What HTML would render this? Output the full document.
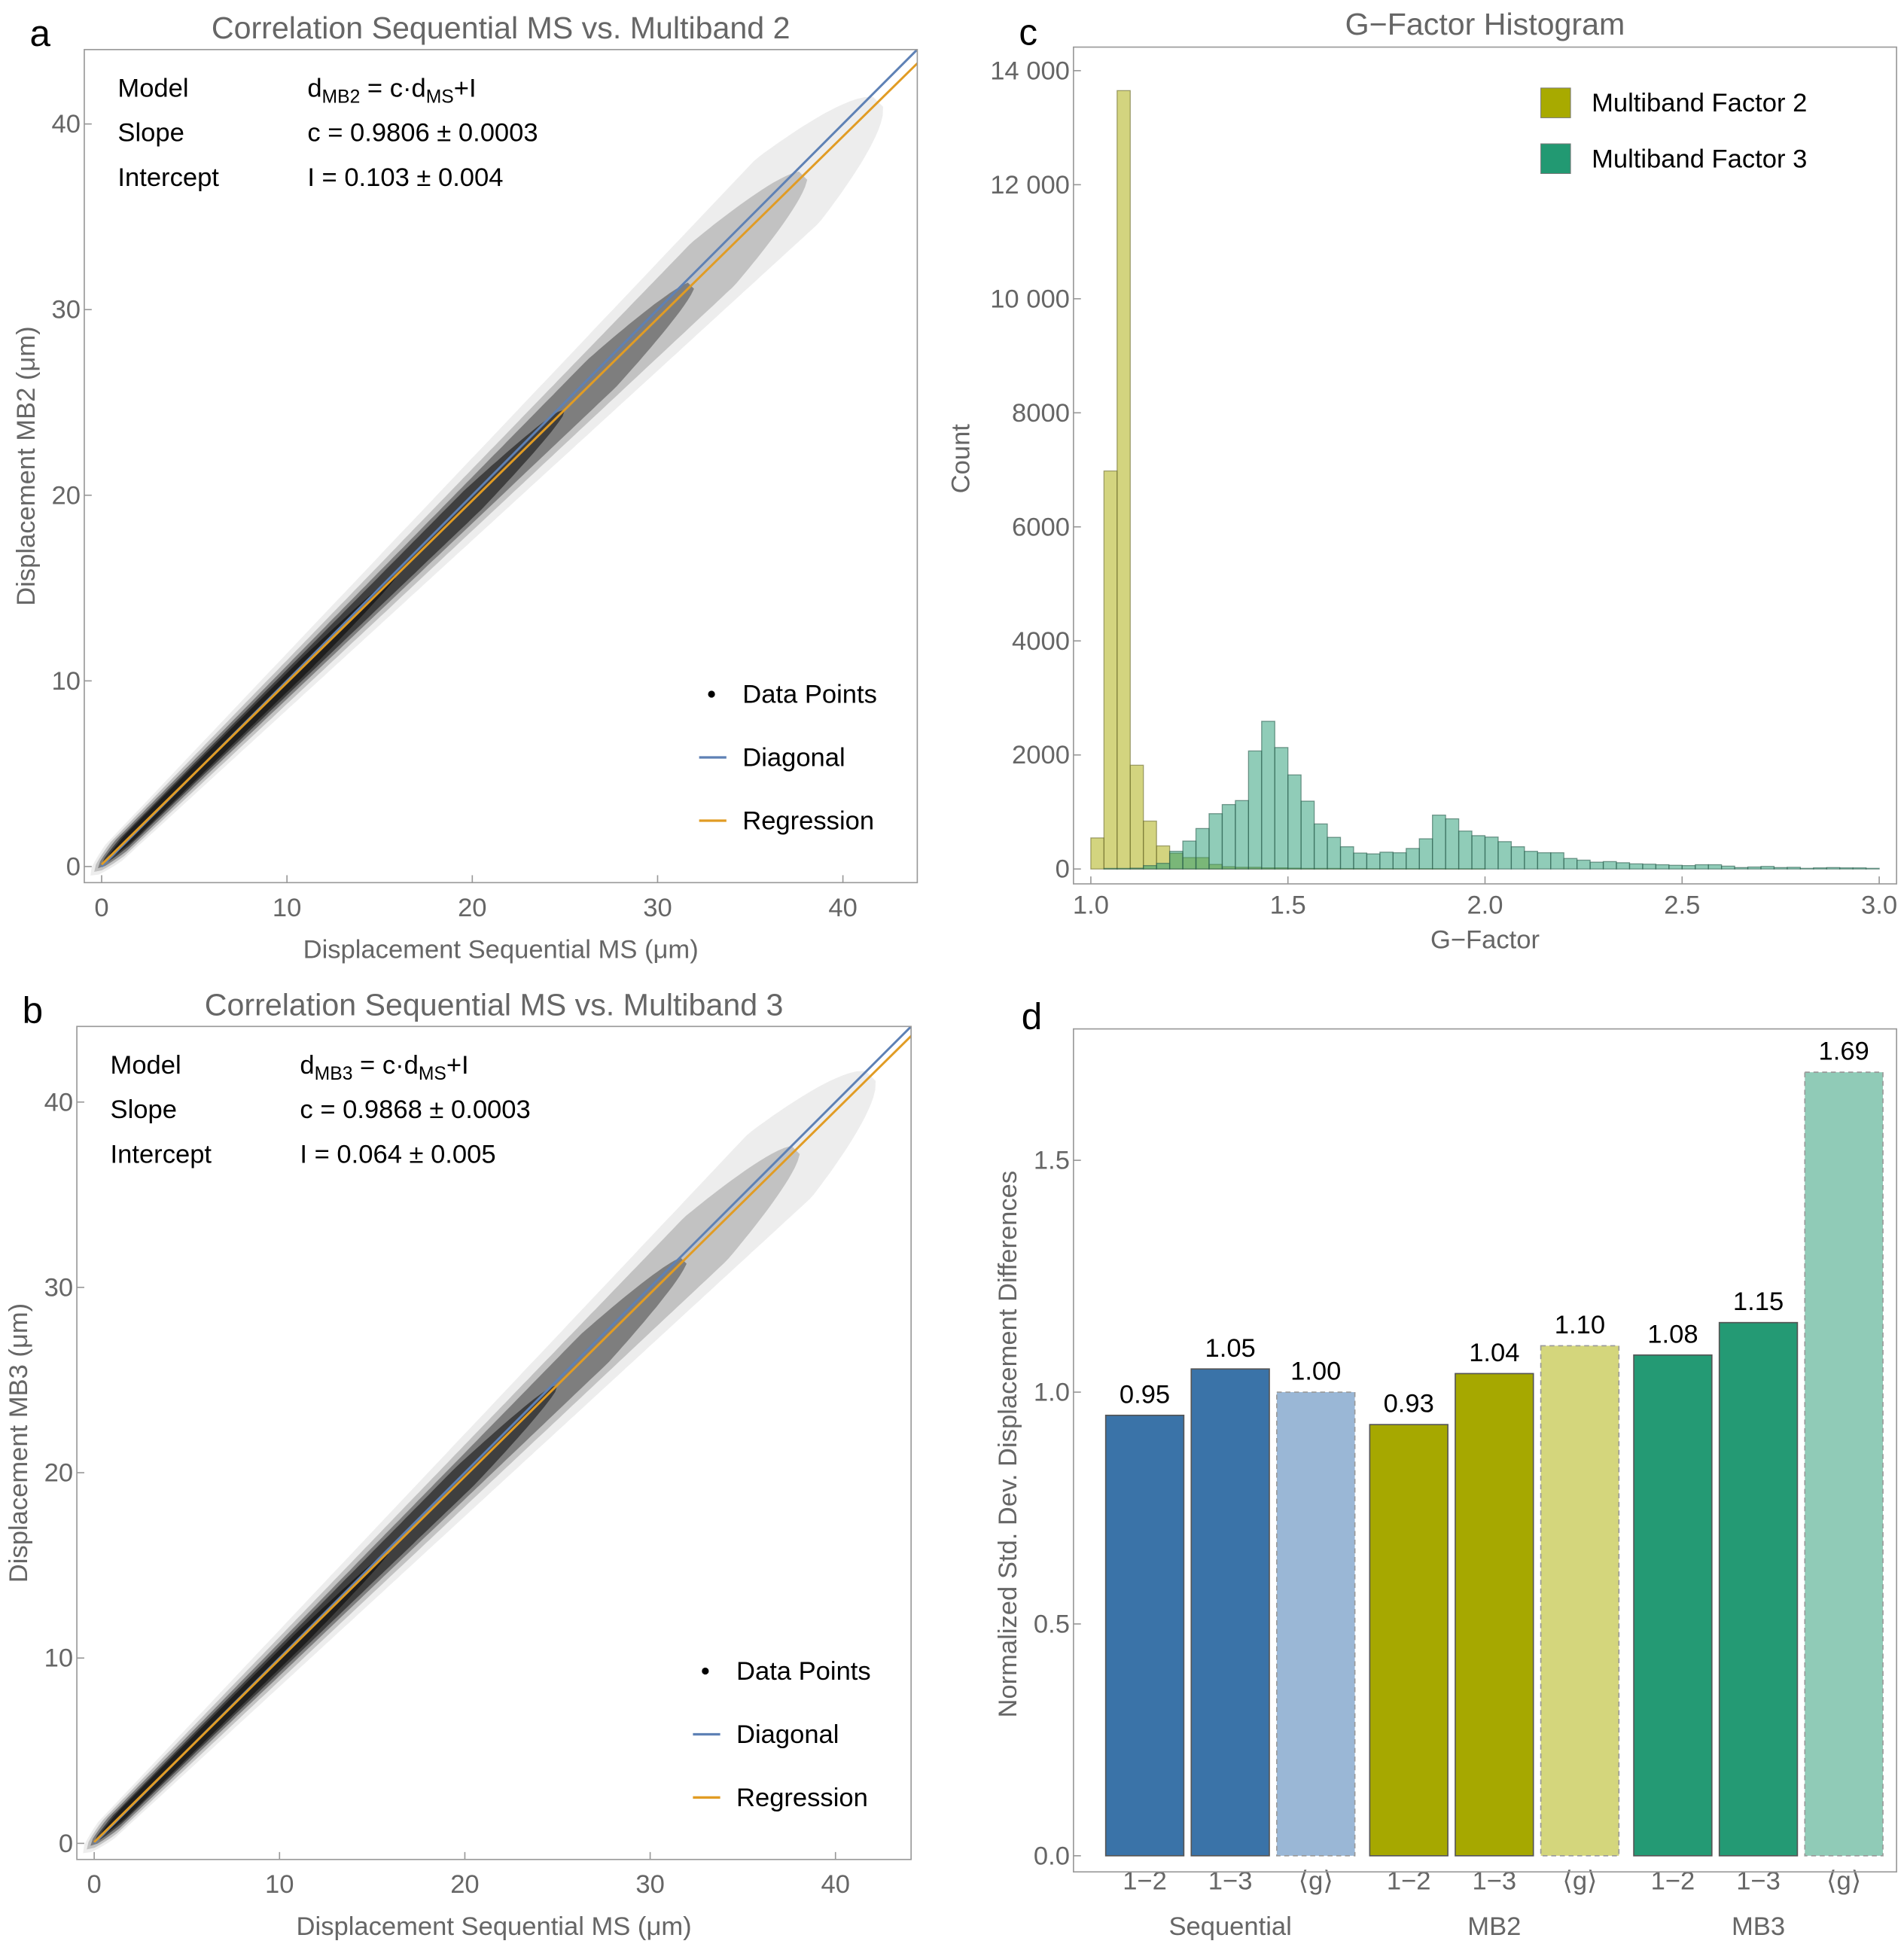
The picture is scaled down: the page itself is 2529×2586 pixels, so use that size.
<!DOCTYPE html>
<html><head><meta charset="utf-8"><style>
html,body{margin:0;padding:0;background:#fff;}
svg{display:block;font-family:"Liberation Sans",sans-serif;}
.tk{fill:#666;font-size:21px;}
.ttl{fill:#666;font-size:25px;}
.lab{fill:#666;font-size:21px;}
.blk{fill:#000;font-size:21px;}
.pl{font-size:30px;fill:#000;}
</style></head><body>
<svg id="fig" xmlns="http://www.w3.org/2000/svg" width="2529" height="2586" viewBox="0 0 1536 1570.6" preserveAspectRatio="none"></svg>
<script>
// ---------- data ----------
const scatterTicks = [0, 10, 20, 30, 40];
const slopeA = 0.9806, interceptA = 0.103;
const slopeB = 0.9868, interceptB = 0.064;
const histEdgesStart = 1.0, histBin = 1/30;
const mb2Counts = [545, 6980, 13650, 1820, 840, 405, 275, 200, 200, 80, 40, 30, 30, 20, 20, 15, 10, 10, 10, 8, 8, 5, 5, 5, 5, 5, 5, 3, 3, 3];
const mb3Counts = [0, 10, 10, 15, 60, 100, 310, 490, 710, 970, 1130, 1200, 2070, 2590, 2130, 1650, 1190, 790, 555, 390, 280, 265, 295, 285, 360, 530, 945, 880, 665, 585, 560, 480, 390, 310, 285, 285, 185, 155, 120, 130, 110, 90, 85, 75, 65, 60, 75, 75, 50, 25, 35, 45, 25, 30, 12, 20, 25, 20, 20, 12];
const histXTicks = [1.0, 1.5, 2.0, 2.5, 3.0];
const histYTicks = [0, 2000, 4000, 6000, 8000, 10000, 12000, 14000];
const histYLabels = ["0", "2000", "4000", "6000", "8000", "10 000", "12 000", "14 000"];
const barCats = ["1\u22122", "1\u22123", "\u27E8g\u27E9", "1\u22122", "1\u22123", "\u27E8g\u27E9", "1\u22122", "1\u22123", "\u27E8g\u27E9"];
const barValues = [0.95, 1.05, 1.00, 0.93, 1.04, 1.10, 1.08, 1.15, 1.69];
const barGroups = ["Sequential", "MB2", "MB3"];
const barYTicks = [0.0, 0.5, 1.0, 1.5];

const svg = document.getElementById('fig');
const NS = 'http://www.w3.org/2000/svg';
function mk(tag, attrs, parent, text) {
  const e = document.createElementNS(NS, tag);
  for (const k in attrs) e.setAttribute(k, attrs[k]);
  if (text !== undefined) e.textContent = text;
  (parent || svg).appendChild(e);
  return e;
}

// ---------- scatter panels ----------
function scatterPanel(cfg) {
  const g = mk('g', {});
  
  
  const sx = v => cfg.x0 + v * cfg.kx;
  const sy = v => cfg.y0 - v * cfg.ky;
  const clipId = cfg.name + '-clip';
  const cp = mk('clipPath', {id: clipId}, g);
  mk('rect', {x: cfg.L, y: cfg.T, width: cfg.R - cfg.L, height: cfg.B - cfg.T}, cp);
  const inner = mk('g', {'clip-path': 'url(#' + clipId + ')'}, g);
  // density cloud: [a, b, startX, endX, opacity]; vertical half-width a + b*x, tapered ends
  const bands = [[0.6, 0.05, -0.6, 42, 0.07], [0.5, 0.035, -0.4, 38, 0.18], [0.4, 0.025, -0.2, 32, 0.35], [0.3, 0.02, 0, 25, 0.5], [0.25, 0.012, 0.3, 16, 0.5]];
  bands.forEach(b => {
    const xs = [];
    for (let x = b[2]; x <= b[3] + 0.01; x += 0.25) xs.push(x);
    const hw = x => (b[0] + b[1] * Math.max(x, 0)) * Math.min(1, Math.sqrt(Math.max(0, (b[3] - x) / 5)), Math.sqrt(Math.max(0, (x - b[2]) / 1.2)));
    const top = xs.map(x => [sx(x - hw(x) * 0.7), sy(cfg.slope * x + cfg.icpt + hw(x) * 0.7)]);
    const bot = xs.slice().reverse().map(x => [sx(x + hw(x) * 0.7), sy(cfg.slope * x + cfg.icpt - hw(x) * 0.7)]);
    const p = mk('polygon', {points: top.concat(bot).map(q => q[0].toFixed(1) + ',' + q[1].toFixed(1)).join(' '), fill: '#000', 'fill-opacity': b[4]}, inner);
    
    
  });
  const d = mk('line', {x1: sx(0), y1: sy(0), x2: sx(50), y2: sy(50), stroke: '#5e81b5', 'stroke-width': 1.8}, inner);
  
  
  const r = mk('line', {x1: sx(0), y1: sy(cfg.icpt), x2: sx(50), y2: sy(cfg.slope * 50 + cfg.icpt), stroke: '#e19c24', 'stroke-width': 1.8}, inner);
  
  
  mk('rect', {x: cfg.L, y: cfg.T, width: cfg.R - cfg.L, height: cfg.B - cfg.T, fill: 'none', stroke: '#999', 'stroke-width': 1}, g);
  scatterTicks.forEach(t => {
    mk('line', {x1: sx(t), x2: sx(t), y1: cfg.B, y2: cfg.B - 6, stroke: '#999'}, g);
    mk('line', {x1: cfg.L, x2: cfg.L + 6, y1: sy(t), y2: sy(t), stroke: '#999'}, g);
    const xt = mk('text', {x: sx(t), y: cfg.B + 27, class: 'tk', 'text-anchor': 'middle'}, g, t);
    
    
    const yt = mk('text', {x: cfg.L - 3, y: sy(t) + 7, class: 'tk', 'text-anchor': 'end'}, g, t);
    
    
  });
  const ti = mk('text', {x: (cfg.L + cfg.R) / 2, y: cfg.T - 9, class: 'ttl', 'text-anchor': 'middle'}, g, cfg.title);
  
  
  const xl = mk('text', {x: (cfg.L + cfg.R) / 2, y: cfg.B + 61, class: 'lab', 'text-anchor': 'middle'}, g, 'Displacement Sequential MS (\u03BCm)');
  
  
  const cy = (cfg.T + cfg.B) / 2;
  const yl = mk('text', {x: cfg.L - 40, y: cy, class: 'lab', 'text-anchor': 'middle', transform: 'rotate(-90 ' + (cfg.L - 40) + ' ' + cy + ')'}, g, cfg.ylab);
  
  
  const pl = mk('text', {x: cfg.L - 44, y: cfg.T - 3, class: 'pl'}, g, cfg.letter);
  
  
  const tx = cfg.L + 27, tv = cfg.L + 180;
  const s1 = mk('text', {x: tx, y: cfg.T + 38, class: 'blk'}, g, 'Model');
  const f = mk('text', {x: tv, y: cfg.T + 38, class: 'blk'}, g);
  mk('tspan', {}, f, 'd');
  mk('tspan', {'font-size': 15, dy: 5}, f, cfg.sub);
  mk('tspan', {dy: -5}, f, ' = c\u00B7d');
  mk('tspan', {'font-size': 15, dy: 5}, f, 'MS');
  mk('tspan', {dy: -5}, f, '+I');
  
  
  mk('text', {x: tx, y: cfg.T + 74, class: 'blk'}, g, 'Slope');
  mk('text', {x: tv, y: cfg.T + 74, class: 'blk'}, g, 'c = ' + cfg.slope.toFixed(4) + ' \u00B1 0.0003');
  mk('text', {x: tx, y: cfg.T + 110, class: 'blk'}, g, 'Intercept');
  mk('text', {x: tv, y: cfg.T + 110, class: 'blk'}, g, cfg.itext);
  
  
  const lx = cfg.R - 176, ly = cfg.B - 145;
  mk('circle', {cx: lx + 10, cy: ly - 7, r: 2.8, fill: '#000'}, g);
  mk('text', {x: lx + 35, y: ly, class: 'blk'}, g, 'Data Points');
  mk('line', {x1: lx, x2: lx + 22, y1: ly + 44, y2: ly + 44, stroke: '#5e81b5', 'stroke-width': 2}, g);
  mk('text', {x: lx + 35, y: ly + 51, class: 'blk'}, g, 'Diagonal');
  mk('line', {x1: lx, x2: lx + 22, y1: ly + 95, y2: ly + 95, stroke: '#e19c24', 'stroke-width': 2}, g);
  const le = mk('text', {x: lx + 35, y: ly + 102, class: 'blk'}, g, 'Regression');
  
  
}
scatterPanel({name: 'scatter-panel-a', L: 68, R: 740, T: 40, B: 712, x0: 82, kx: 14.95, y0: 699, ky: 14.975,
  slope: slopeA, icpt: interceptA, title: 'Correlation Sequential MS vs. Multiband 2', ylab: 'Displacement MB2 (\u03BCm)',
  letter: 'a', sub: 'MB2', itext: 'I = 0.103 \u00B1 0.004'});
scatterPanel({name: 'scatter-panel-b', L: 62, R: 735, T: 828, B: 1500, x0: 76, kx: 14.95, y0: 1487, ky: 14.95,
  slope: slopeB, icpt: interceptB, title: 'Correlation Sequential MS vs. Multiband 3', ylab: 'Displacement MB3 (\u03BCm)',
  letter: 'b', sub: 'MB3', itext: 'I = 0.064 \u00B1 0.005'});

// ---------- histogram ----------
(function () {
  const L = 866, R = 1530, T = 38, B = 713;
  const g = mk('g', {});
  
  
  const sx = v => 880 + (v - 1.0) * 318;
  const sy = v => 701 - v * 0.046;
  function drawSeries(counts, fill, stroke, name) {
    counts.forEach((c, i) => {
      if (c <= 0) return;
      const x0 = sx(histEdgesStart + i * histBin), x1 = sx(histEdgesStart + (i + 1) * histBin);
      const b = mk('rect', {x: x0, y: sy(c), width: x1 - x0, height: sy(0) - sy(c), fill: fill, 'fill-opacity': 0.5, stroke: stroke, 'stroke-opacity': 0.6, 'stroke-width': 0.8}, g);
      
      
    });
  }
  drawSeries(mb2Counts, '#a8aa00', '#6a6a30', 'mb2-bar');
  drawSeries(mb3Counts, '#229972', '#2f5f50', 'mb3-bar');
  mk('rect', {x: L, y: T, width: R - L, height: B - T, fill: 'none', stroke: '#999'}, g);
  histXTicks.forEach(t => {
    mk('line', {x1: sx(t), x2: sx(t), y1: B, y2: B - 6, stroke: '#999'}, g);
    const e = mk('text', {x: sx(t), y: B + 24, class: 'tk', 'text-anchor': 'middle'}, g, t.toFixed(1));
    
    
  });
  histYTicks.forEach((t, i) => {
    mk('line', {x1: L, x2: L + 6, y1: sy(t), y2: sy(t), stroke: '#999'}, g);
    const e = mk('text', {x: L - 3, y: sy(t) + 7, class: 'tk', 'text-anchor': 'end'}, g, histYLabels[i]);
    
    
  });
  const ti = mk('text', {x: 1198, y: 28, class: 'ttl', 'text-anchor': 'middle'}, g, 'G\u2212Factor Histogram');
  
  
  const xl = mk('text', {x: 1198, y: 765, class: 'lab', 'text-anchor': 'middle'}, g, 'G\u2212Factor');
  
  
  const yl = mk('text', {x: 782, y: 370, class: 'lab', 'text-anchor': 'middle', transform: 'rotate(-90 782 370)'}, g, 'Count');
  
  
  const pl = mk('text', {x: 822, y: 36, class: 'pl'}, g, 'c');
  
  
  mk('rect', {x: 1243, y: 71, width: 24, height: 24, fill: '#a8aa00', stroke: '#777', 'stroke-width': 0.6}, g);
  const l1 = mk('text', {x: 1284, y: 90, class: 'blk', 'font-size': 22}, g, 'Multiband Factor 2');
  
  
  mk('rect', {x: 1243, y: 116, width: 24, height: 24, fill: '#229972', stroke: '#777', 'stroke-width': 0.6}, g);
  const l2 = mk('text', {x: 1284, y: 135, class: 'blk', 'font-size': 22}, g, 'Multiband Factor 3');
  
  
})();

// ---------- bar chart ----------
(function () {
  const L = 866, R = 1530, T = 830, B = 1510;
  const g = mk('g', {});
  
  
  const sy = v => 1497 - v * 374;
  const colors = ['#3a73a8', '#3a73a8', '#9ab7d6', '#a6a800', '#a6a800', '#d4d67c', '#249a74', '#249a74', '#90cbb7'];
  const bw = 63, step = 69, gap = 6;
  const bx = i => 892 + i * step + Math.floor(i / 3) * gap;
  barValues.forEach((v, i) => {
    const x = bx(i);
    const dashed = (i % 3 === 2);
    const b = mk('rect', {x: x, y: sy(v), width: bw, height: sy(0) - sy(v), fill: colors[i], stroke: dashed ? '#999' : '#555', 'stroke-width': 1, 'stroke-dasharray': dashed ? '4,3' : 'none'}, g);
    
    
    const t = mk('text', {x: x + bw / 2, y: sy(v) - 10, class: 'blk', 'text-anchor': 'middle'}, g, v.toFixed(2));
    
    
    const c = mk('text', {x: x + bw / 2, y: 1524, class: 'tk', 'text-anchor': 'middle'}, g, barCats[i]);
    
    
  });
  barGroups.forEach((n, j) => {
    const e = mk('text', {x: bx(j * 3 + 1) + bw / 2, y: 1561, class: 'lab', 'text-anchor': 'middle'}, g, n);
    
    
  });
  mk('rect', {x: L, y: T, width: R - L, height: B - T, fill: 'none', stroke: '#999'}, g);
  barYTicks.forEach(t => {
    mk('line', {x1: L, x2: L + 6, y1: sy(t), y2: sy(t), stroke: '#999'}, g);
    const e = mk('text', {x: L - 3, y: sy(t) + 7, class: 'tk', 'text-anchor': 'end'}, g, t.toFixed(1));
    
    
  });
  const yl = mk('text', {x: 820, y: 1165, class: 'lab', 'text-anchor': 'middle', transform: 'rotate(-90 820 1165)'}, g, 'Normalized Std. Dev. Displacement Differences');
  
  
  const pl = mk('text', {x: 824, y: 830, class: 'pl'}, g, 'd');
  
  
})();
</script>
</body></html>
